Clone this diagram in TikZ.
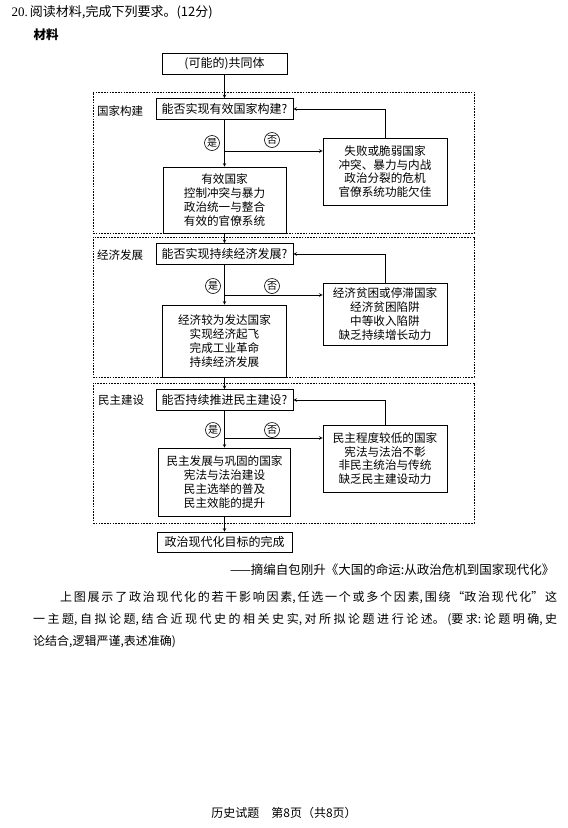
\documentclass[tikz,border=0pt]{standalone}
\usepackage{fontspec}
\setmainfont{Liberation Serif}
\newfontfamily\cjk{Noto Sans CJK SC}
\usetikzlibrary{arrows}
\XeTeXlinebreaklocale "zh"
\XeTeXlinebreakskip = 0pt plus 1pt

\begin{document}
\begin{tikzpicture}[x=1pt,y=-1pt,
  box/.style={draw,line width=0.7pt,inner sep=0pt,align=center,font=\cjk\fontsize{12}{14}\selectfont},
  ques/.style={box,minimum width=137pt,minimum height=21pt},
  res/.style={box,font=\cjk\fontsize{11.6}{13.8}\selectfont,minimum width=124pt},
  yn/.style={draw,circle,line width=0.6pt,inner sep=0pt,minimum size=15pt,font=\cjk\fontsize{10}{10}\selectfont},
  sect/.style={draw,line width=0.6pt,dash pattern=on 1.6pt off 1.2pt,minimum width=381pt,minimum height=140pt},
  lab/.style={font=\cjk\fontsize{11.5}{14}\selectfont},
  link/.style={line width=0.6pt}]
  \useasboundingbox (0,0) rectangle (568,828);

  \node[anchor=west,font=\fontsize{13}{15}\selectfont] (title) at (8,12) {20.\,{\cjk 阅读材料,完成下列要求。(12分)}};
  \node[anchor=west,font=\cjk\bfseries\fontsize{12.5}{15}\selectfont] (mat) at (30,35) {材料};

  % sections
  \node[sect,minimum height=141pt] (s1) at (283.5,162.5) {};
  \node[sect] (s2) at (283.5,307) {};
  \node[sect] (s3) at (283.5,453) {};
  \node[lab] (l1) at (120,111) {国家构建};
  \node[lab] (l2) at (120,255) {经济发展};
  \node[lab] (l3) at (121,400) {民主建设};

  \node[box,minimum width=125pt,minimum height=21pt] (top) at (224.5,63.5) {(可能的)共同体};

  \node[ques] (q1) at (224.5,109) {能否实现有效国家构建?};
  \node[res,minimum width=123pt,minimum height=66pt] (y1) at (224.5,200) {有效国家\\控制冲突与暴力\\政治统一与整合\\有效的官僚系统};
  \node[res,minimum height=67pt] (n1) at (385,171.5) {失败或脆弱国家\\冲突、暴力与内战\\政治分裂的危机\\官僚系统功能欠佳};
  \node[yn] (yes1) at (212,143) {是};
  \node[yn] (no1) at (272,140) {否};
  \coordinate (b1) at (224.5,151);

  \node[ques] (q2) at (224.5,254) {能否实现持续经济发展?};
  \node[res,minimum height=72pt] (y2) at (224.5,341) {经济较为发达国家\\实现经济起飞\\完成工业革命\\持续经济发展};
  \node[res,minimum height=62pt] (n2) at (385,314) {经济贫困或停滞国家\\经济贫困陷阱\\中等收入陷阱\\缺乏持续增长动力};
  \node[yn] (yes2) at (213,286) {是};
  \node[yn] (no2) at (272,286) {否};
  \coordinate (b2) at (224.5,295);

  \node[ques] (q3) at (224.5,400) {能否持续推进民主建设?};
  \node[res,minimum width=132pt,minimum height=68pt] (y3) at (224.5,482) {民主发展与巩固的国家\\宪法与法治建设\\民主选举的普及\\民主效能的提升};
  \node[res,minimum height=67pt] (n3) at (385,458.5) {民主程度较低的国家\\宪法与法治不彰\\非民主统治与传统\\缺乏民主建设动力};
  \node[yn] (yes3) at (213,430) {是};
  \node[yn] (no3) at (272,430) {否};
  \coordinate (b3) at (224.5,438);

  \node[ques,minimum width=135pt,minimum height=20pt] (fin) at (224.5,542) {政治现代化目标的完成};

  \draw[link,-stealth] (top) -- (q1);
  \foreach \i in {1,2,3}{
    \draw[link,-stealth] (q\i) -- (y\i);
    \draw[link,-stealth] (b\i) -- (b\i -| n\i.west);
    \draw[link,-stealth] (n\i.north) |- (q\i.east);
  }
  \draw[link,-stealth] (y1) -- (q2);
  \draw[link,-stealth] (y2) -- (q3);
  \draw[link,-stealth] (y3) -- (fin);

  % text below
  \node[anchor=east,font=\cjk\fontsize{12.5}{15}\selectfont] (src) at (558,570) {——摘编自包刚升《大国的命运:从政治危机到国家现代化》};
  \node[anchor=north west,text width=524pt,align=justify,inner sep=0pt,font=\cjk\fontsize{12}{22}\selectfont] (task) at (33,591)
    {\hspace*{27pt}上图展示了政治现代化的若干影响因素,任选一个或多个因素,围绕“政治现代化”这\linebreak
     一主题,自拟论题,结合近现代史的相关史实,对所拟论题进行论述。(要求:论题明确,史\linebreak
     论结合,逻辑严谨,表述准确)};
  \node[font=\cjk\fontsize{12}{14}\selectfont] (foot) at (284,813) {历史试题\quad 第8页（共8页）};
\end{tikzpicture}
\end{document}
